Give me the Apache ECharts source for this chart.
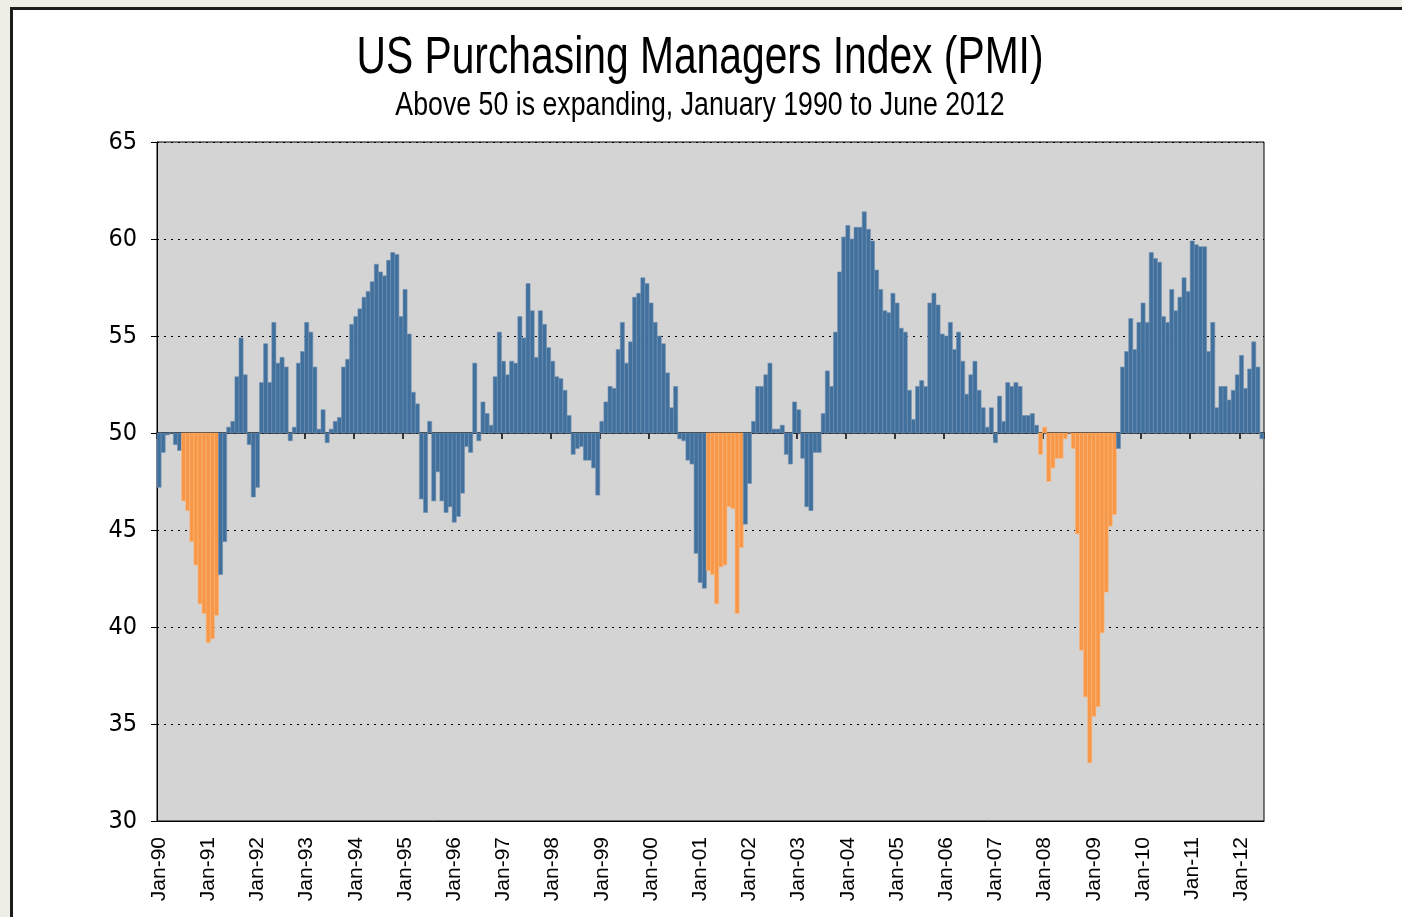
<!DOCTYPE html>
<html>
<head>
<meta charset="utf-8">
<title>US PMI</title>
<script src="https://cdn.jsdelivr.net/npm/echarts@6/dist/echarts.min.js"></script>
<style>
  body { margin: 0; background: #efeee6; overflow: hidden; }
  #panel { position: absolute; left: 10px; top: 7px; width: 1430px; height: 950px;
           border: 3px solid #1c1c1c; background: #fff; }
  #main { position: absolute; left: 0; top: 0; width: 1402px; height: 917px; }
</style>
</head>
<body>
<div id="panel"></div>
<div id="main"></div>
<script>
// monthly PMI, Jan 1990 .. Jun 2012 (one row per year)
var pmi = [
  47.2, 49.0, 49.9, 50.0, 49.4, 49.1, 46.5, 46.0, 44.4, 43.2, 41.2, 40.7, // 1990
  39.2, 39.4, 40.6, 42.7, 44.4, 50.3, 50.6, 52.9, 54.9, 53.0, 49.4, 46.7, // 1991
  47.2, 52.6, 54.6, 52.6, 55.7, 53.6, 53.9, 53.4, 49.6, 50.3, 53.6, 54.2, // 1992
  55.7, 55.2, 53.4, 50.2, 51.2, 49.5, 50.2, 50.6, 50.8, 53.4, 53.8, 55.6, // 1993
  56.0, 56.4, 57.0, 57.3, 57.8, 58.7, 58.3, 58.1, 58.9, 59.3, 59.2, 56.0, // 1994
  57.4, 55.1, 52.1, 51.5, 46.6, 45.9, 50.6, 46.5, 48.0, 46.5, 45.9, 46.2, // 1995
  45.4, 45.7, 46.9, 49.3, 49.0, 53.6, 49.6, 51.6, 51.0, 50.4, 52.9, 55.2, // 1996
  53.7, 53.0, 53.7, 53.6, 56.0, 54.9, 57.7, 56.3, 53.9, 56.3, 55.6, 54.4, // 1997
  53.7, 52.9, 52.8, 52.2, 50.9, 48.9, 49.2, 49.3, 48.6, 48.6, 48.2, 46.8, // 1998
  50.6, 51.6, 52.4, 52.3, 54.3, 55.7, 53.6, 54.7, 57.0, 57.2, 58.0, 57.7, // 1999
  56.7, 55.7, 55.0, 54.6, 53.1, 51.3, 52.4, 49.7, 49.6, 48.6, 48.4, 43.8, // 2000
  42.3, 42.0, 42.9, 42.7, 41.2, 43.1, 43.2, 46.2, 46.1, 40.7, 44.1, 45.3, // 2001
  47.4, 50.6, 52.4, 52.4, 53.0, 53.6, 50.2, 50.2, 50.4, 48.9, 48.4, 51.6, // 2002
  51.2, 48.7, 46.2, 46.0, 49.0, 49.0, 51.0, 53.2, 52.4, 55.2, 58.3, 60.1, // 2003
  60.7, 60.0, 60.6, 60.6, 61.4, 60.5, 59.9, 58.4, 57.4, 56.3, 56.2, 57.2, // 2004
  56.7, 55.4, 55.2, 52.2, 50.7, 52.4, 52.7, 52.4, 56.7, 57.2, 56.6, 55.1, // 2005
  55.0, 55.7, 54.3, 55.2, 53.7, 52.0, 53.0, 53.7, 52.2, 51.3, 50.3, 51.3, // 2006
  49.5, 51.9, 50.6, 52.6, 52.4, 52.6, 52.4, 50.9, 50.9, 51.0, 50.4, 48.9, // 2007
  50.3, 47.5, 48.2, 48.7, 48.7, 49.7, 50.0, 49.2, 44.8, 38.8, 36.4, 33.0, // 2008
  35.4, 35.9, 39.7, 41.8, 45.2, 45.8, 49.2, 53.4, 54.2, 55.9, 54.3, 55.7, // 2009
  56.7, 55.7, 59.3, 59.0, 58.8, 56.0, 55.7, 57.4, 56.3, 57.0, 58.0, 57.3, // 2010
  59.9, 59.7, 59.6, 59.6, 54.2, 55.7, 51.3, 52.4, 52.4, 51.7, 52.2, 53.0, // 2011
  54.0, 52.3, 53.3, 54.7, 53.4, 49.7                                      // 2012
];

// recession spans (first month, last month)
var recessions = [['Jul-90', 'Mar-91'], ['Mar-01', 'Nov-01'], ['Dec-07', 'Jun-09']];

var monthNames = ['Jan', 'Feb', 'Mar', 'Apr', 'May', 'Jun', 'Jul', 'Aug', 'Sep', 'Oct', 'Nov', 'Dec'];
var yTicks = { min: 30, max: 65, step: 5 };

var categories = [];
for (var i = 0; i < pmi.length; i++) {
  var yr = (1990 + Math.floor(i / 12)) % 100;
  categories.push(monthNames[i % 12] + '-' + (yr < 10 ? '0' + yr : '' + yr));
}

function inRecession(idx) {
  for (var k = 0; k < recessions.length; k++) {
    var a = categories.indexOf(recessions[k][0]);
    var b = categories.indexOf(recessions[k][1]);
    if (idx >= a && idx <= b) return 1;
  }
  return 0;
}

var barData = pmi.map(function (v, i) { return [i, v, inRecession(i)]; });

var gridTop = 142, gridHeight = 679;
var sans = '"Liberation Sans", Arial, sans-serif';
var narrow = '"Liberation Sans Narrow", "Arial Narrow", "DejaVu Sans Condensed", sans-serif';

var chart = echarts.init(document.getElementById('main'));

var option = {
  backgroundColor: 'transparent',
  animation: false,
  graphic: [
    {
      // regular face squeezed horizontally to get the narrow look
      type: 'text', x: 700, y: 59, scaleX: 0.8,
      style: { text: 'US Purchasing Managers Index (PMI)', font: '51px ' + sans, fill: '#000',
               align: 'center', verticalAlign: 'middle' }
    },
    {
      type: 'text', x: 700, y: 106, scaleX: 0.81,
      style: { text: 'Above 50 is expanding, January 1990 to June 2012', font: '33px ' + sans, fill: '#000',
               align: 'center', verticalAlign: 'middle' }
    }
  ],
  grid: {
    left: 157, top: gridTop, width: 1107, height: gridHeight,
    show: true, backgroundColor: '#d4d4d4', borderColor: '#000', borderWidth: 1
  },
  xAxis: [
    {
      type: 'category', data: categories, boundaryGap: true, position: 'bottom',
      axisLine: { show: true, lineStyle: { color: '#000', width: 1 } },
      axisTick: { show: false },
      axisLabel: { interval: 11, rotate: 90, margin: 16, color: '#000',
                   fontSize: 21, fontFamily: sans },
      splitLine: { show: false }
    },
    {
      // the 50 line with its yearly ticks
      type: 'category', data: categories, boundaryGap: true, position: 'top',
      offset: -gridHeight * (yTicks.max - 50) / (yTicks.max - yTicks.min),
      axisLine: { show: true, lineStyle: { color: '#000', width: 1.5 } },
      axisTick: { show: true, inside: true, interval: 11, length: 6, lineStyle: { color: '#000', width: 1.5 } },
      axisLabel: { show: false },
      splitLine: { show: false }
    }
  ],
  yAxis: {
    type: 'value', min: yTicks.min, max: yTicks.max, interval: yTicks.step,
    axisLine: { show: true, lineStyle: { color: '#000' } },
    axisTick: { show: true, length: 6, lineStyle: { color: '#000' } },
    axisLabel: { margin: 20, color: '#000', fontSize: 25, fontFamily: narrow },
    splitLine: { show: true, lineStyle: { color: '#000', type: [2, 5], width: 1 } }
  },
  series: [{
    type: 'custom',
    xAxisIndex: 0,
    data: barData,
    encode: { x: 0, y: 1 },
    renderItem: function (params, api) {
      var top = api.coord([api.value(0), api.value(1)]);
      var base = api.coord([api.value(0), 50]);
      var w = api.size([1, 0])[0];
      var rec = api.value(2) === 1;
      return {
        type: 'rect',
        shape: { x: base[0] - w / 2, y: Math.min(top[1], base[1]), width: w, height: Math.abs(top[1] - base[1]) },
        style: { fill: rec ? '#f79747' : '#41709c', stroke: rec ? '#fbb77a' : '#6e90b3', lineWidth: 0.6 }
      };
    },
    z: 1
  }]
};

chart.setOption(option);
</script>
</body>
</html>
